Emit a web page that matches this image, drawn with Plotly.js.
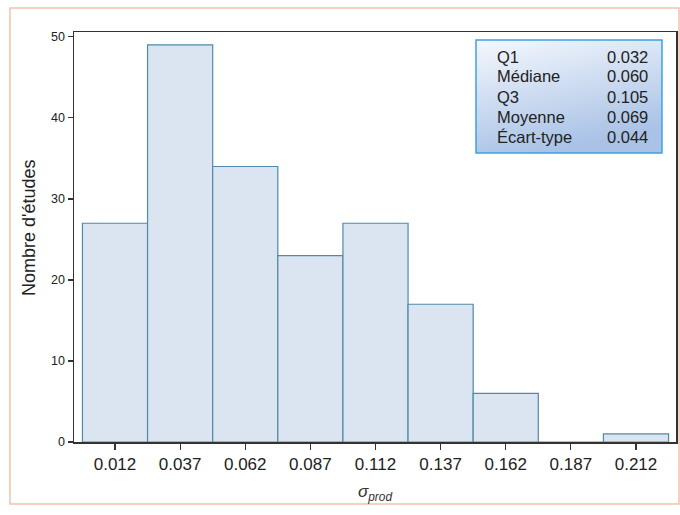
<!DOCTYPE html>
<html>
<head>
<meta charset="utf-8">
<script src="https://cdn.plot.ly/plotly-3.0.1.min.js"></script>
<style>html,body{margin:0;padding:0;background:#fff;}#chart{width:680px;height:515px;}</style>
</head>
<body>
<div id="chart"></div>
<script>
const binCenters = [0.012, 0.037, 0.062, 0.087, 0.112, 0.137, 0.162, 0.187, 0.212];
const counts = [27, 49, 34, 23, 27, 17, 6, 0, 1];
const tickLabels = ["0.012", "0.037", "0.062", "0.087", "0.112", "0.137", "0.162", "0.187", "0.212"];
const statLabels = ["Q1", "Médiane", "Q3", "Moyenne", "Écart-type"];
const statValues = ["0.032", "0.060", "0.105", "0.069", "0.044"];
const yTitle = "Nombre d'études";

const binWidth = 0.025;
const font = "Liberation Sans, Arial, sans-serif";

const svg = '<svg xmlns="http://www.w3.org/2000/svg" width="186" height="113" preserveAspectRatio="none">' +
  '<defs><linearGradient id="g" x1="0" y1="0" x2="0.35" y2="1">' +
  '<stop offset="0" stop-color="#f5f8fd"/><stop offset="1" stop-color="#a9c2e6"/></linearGradient></defs>' +
  '<rect x="0" y="0" width="186" height="113" fill="url(#g)"/></svg>';
const svgUri = 'data:image/svg+xml;base64,' + btoa(svg);

const rowY = [0.939, 0.8915, 0.842, 0.7935, 0.7445];
const annotations = [];
statLabels.forEach((lab, i) => {
  annotations.push({xref: 'paper', yref: 'paper', x: 0.6993, y: rowY[i], xanchor: 'left', yanchor: 'middle',
    text: lab, showarrow: false, font: {family: font, size: 16.5, color: '#222'}});
  annotations.push({xref: 'paper', yref: 'paper', x: 0.9568, y: rowY[i], xanchor: 'right', yanchor: 'middle',
    text: statValues[i], showarrow: false, font: {family: font, size: 16.5, color: '#222'}});
});
annotations.push({xref: 'paper', yref: 'paper', x: -0.0748, y: 0.5244, xanchor: 'center', yanchor: 'middle',
  text: yTitle, textangle: -90, showarrow: false, font: {family: font, size: 18, color: '#222'}});

const data = [{
  type: 'bar',
  x: binCenters,
  y: counts,
  width: binWidth,
  marker: {color: '#dbe5f1', line: {color: '#4f8aa6', width: 1.2}},
  hoverinfo: 'none'
}];

const layout = {
  width: 680, height: 515,
  margin: {l: 74, r: 4, t: 32, b: 73},
  paper_bgcolor: '#ffffff',
  plot_bgcolor: '#ffffff',
  showlegend: false,
  bargap: 0,
  xaxis: {
    range: [-0.00374, 0.22736],
    tickmode: 'array', tickvals: binCenters, ticktext: tickLabels,
    ticks: 'outside', ticklen: 6, tickcolor: '#333', tickwidth: 1.2,
    showgrid: false, zeroline: false,
    showline: true, linecolor: '#333', linewidth: 1.5, mirror: true,
    tickfont: {family: font, size: 17, color: '#222'},
    title: {text: '<i>σ<sub>prod</sub></i>', font: {family: font, size: 17, color: '#333'}, standoff: 12}
  },
  yaxis: {
    range: [0, 50.6],
    tickvals: [0, 10, 20, 30, 40, 50],
    ticks: 'outside', ticklen: 5, tickcolor: '#333', tickwidth: 1.2,
    showgrid: false, zeroline: false,
    showline: true, linecolor: '#333', linewidth: 1.5, mirror: true,
    tickfont: {family: font, size: 12.5, color: '#222'}
  },
  images: [{
    source: svgUri, xref: 'paper', yref: 'paper',
    x: 0.6678, y: 0.9805, sizex: 0.3089, sizey: 0.2756,
    xanchor: 'left', yanchor: 'top', sizing: 'stretch', layer: 'above'
  }],
  shapes: [
    {type: 'rect', xref: 'paper', yref: 'paper', x0: 0.6678, x1: 0.9767, y0: 0.7049, y1: 0.9805,
     line: {color: '#3aa3e3', width: 1.5}, fillcolor: 'rgba(0,0,0,0)', layer: 'above'},
    {type: 'rect', xref: 'paper', yref: 'paper', x0: -0.1063, x1: 1.005, y0: -0.1512, y1: 1.0585,
     line: {color: '#f2c2ae', width: 1.5}, fillcolor: 'rgba(0,0,0,0)', layer: 'below'}
  ],
  annotations: annotations
};

Plotly.newPlot('chart', data, layout, {displayModeBar: false, staticPlot: true});
</script>
</body>
</html>
